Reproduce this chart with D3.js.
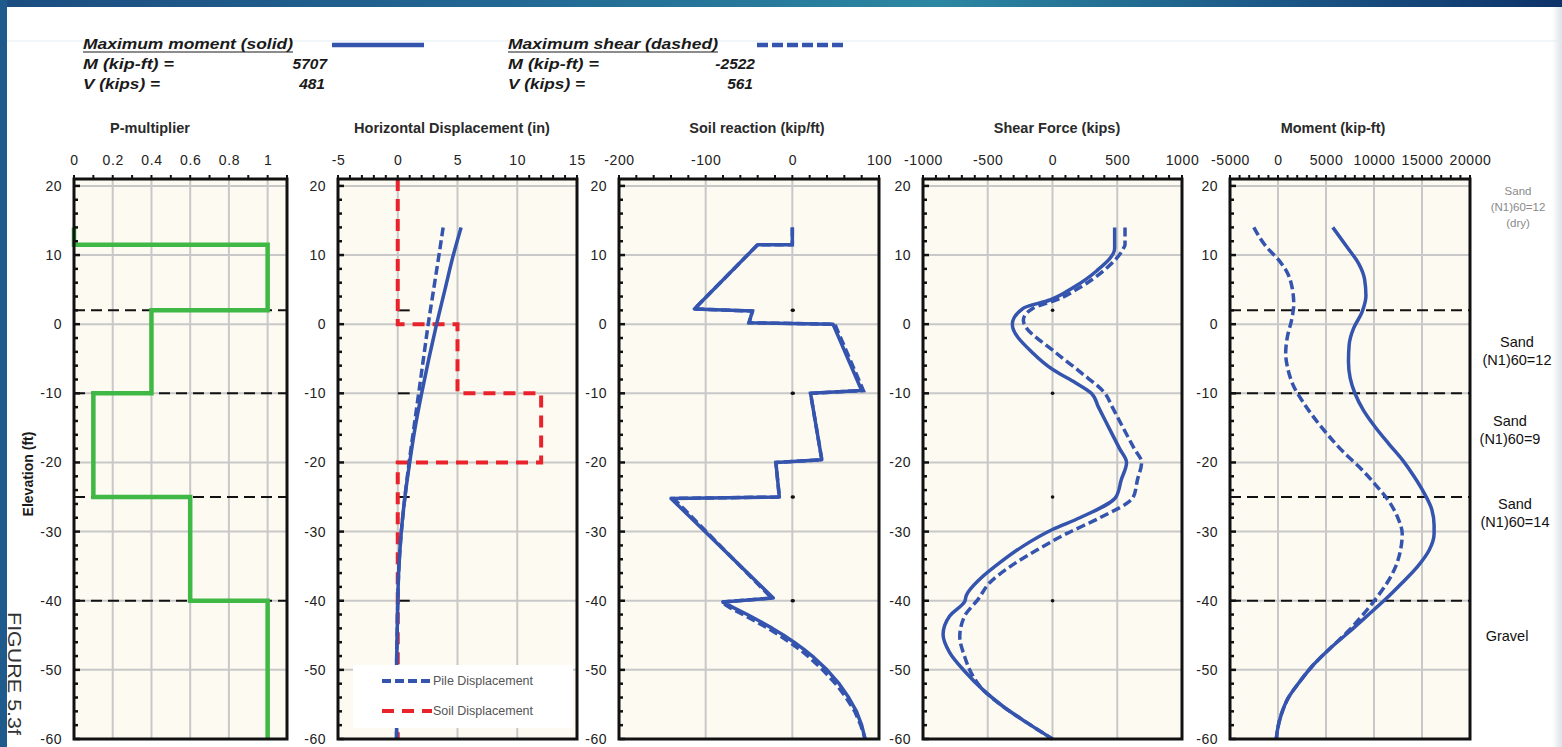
<!DOCTYPE html>
<html><head><meta charset="utf-8">
<script src="https://cdn.jsdelivr.net/npm/d3@7/dist/d3.min.js"></script>
<style>html,body{margin:0;padding:0;background:#fff;overflow:hidden}</style>
</head><body>
<svg id="c" width="1562" height="747"></svg>
<script>
// ---------------- DATA ----------------
const elevTicks = [20, 10, 0, -10, -20, -30, -40, -50, -60];
const layerBoundaries = [2, -10, -25, -40];

const pmTicks = [0, 0.2, 0.4, 0.6, 0.8, 1];
const dispTicks = [-5, 0, 5, 10, 15];
const srTicks = [-200, -100, 0, 100];
const shTicks = [-1000, -500, 0, 500, 1000];
const momTicks = [-5000, 0, 5000, 10000, 15000, 20000];

// P-multiplier profile
const pmElev = [14, 11.5, 11.5, 2, 2, -10, -10, -25, -25, -40, -40, -60];
const pmValue = [0, 0, 1, 1, 0.4, 0.4, 0.1, 0.1, 0.6, 0.6, 1, 1];

// Horizontal displacement (in)
const dispElev = [14, 10, 5, 0, -5, -10, -15, -20, -25, -30, -35, -40, -45, -50, -55, -60];
const pileDispMoment = [5.3, 4.65, 3.95, 3.25, 2.6, 2.0, 1.45, 1.0, 0.6, 0.3, 0.1, 0, -0.05, -0.1, -0.1, -0.1];
const pileDispShear = [3.8, 3.45, 3.0, 2.55, 2.15, 1.75, 1.35, 0.95, 0.6, 0.3, 0.1, 0, -0.05, -0.1, -0.1, -0.1];
const soilDispElev = [21, 0, 0, -10, -10, -20, -20, -60];
const soilDispValue = [0, 0, 5, 5, 12, 12, 0, 0];

// Soil reaction (kip/ft)
const srElev = [14, 11.5, 11.5, 2.2, 1.9, 0.2, 0, -9.6, -10, -19.6, -20, -25, -25.2, -39.6, -40.2, -41, -42, -43, -44, -45, -46, -47, -48, -50, -52, -54, -56, -58, -60];
const srMoment = [0, 0, -40, -113, -46, -50, 47, 80, 21, 34, -19, -15, -140, -22, -80, -68, -52, -37, -23, -10, 2, 13, 23, 40, 54, 65, 74, 80, 84];
const srShear = [0, 0, -40, -113, -46, -50, 49, 82, 21, 34, -19, -15, -137, -24, -82, -72, -57, -42, -28, -15, -3, 8, 18, 35, 50, 62, 72, 79, 84];

// Shear force (kips)
const shElevMoment = [14, 11, 7.7, 5.3, 3.5, 2.3, 0, -4.2, -6.6, -8.5, -10, -12, -15, -18, -20, -22.5, -25, -28, -29.7, -32.1, -34.5, -36.9, -39.2, -40.1, -42.2, -44.9, -47.5, -50.2, -52.9, -55.3, -57.6, -60];
const shMoment = [480, 480, 340, 160, -20, -227, -310, -150, 5, 180, 300, 355, 436, 518, 572, 531, 490, 211, 0, -227, -407, -562, -665, -678, -794, -845, -794, -678, -536, -381, -201, 0];
const shElevShear = [14, 11.5, 10.9, 7.7, 5.3, 3.5, 2.3, 0.6, -4.2, -7, -10, -12, -15, -18, -20, -22.5, -25, -28, -30.3, -32.7, -35.1, -37.4, -39.8, -42.2, -45.2, -48.1, -50.5, -52.9, -55.3, -57.6, -60];
const shShear = [560, 560, 546, 392, 211, 30, -150, -225, 31, 220, 405, 462, 546, 631, 688, 656, 624, 366, 108, -124, -330, -485, -575, -678, -716, -678, -626, -536, -381, -201, 0];

// Moment (kip-ft)
const momElevMoment = [14, 11.2, 8.8, 6.5, 4.1, 1.7, -0.6, -3.0, -5.4, -7.8, -10.1, -12.5, -14.9, -17.3, -19.6, -22.0, -24.4, -26.8, -29.1, -30.3, -32.7, -35.1, -37.4, -39.8, -42.2, -44.6, -46.9, -49.3, -51.7, -54.1, -56.4, -58.8, -60];
const momMoment = [5707, 7170, 8390, 9020, 9160, 8740, 7870, 7410, 7340, 7520, 8040, 8920, 10140, 11540, 12940, 14160, 15210, 16020, 16260, 16260, 15740, 14510, 12940, 11190, 9270, 7340, 5420, 3670, 2270, 1050, 350, -70, -175];
const momElevShear = [14, 11.2, 9.4, 7.7, 5.3, 2.9, 0.5, -1.8, -4.2, -6.6, -9.0, -11.3, -13.7, -16.1, -18.5, -20.8, -23.2, -25.6, -28.0, -30.3, -32.7, -35.1, -37.4, -39.8, -42.2, -44.6, -46.9, -49.3, -51.7, -54.1, -56.4, -58.8, -60];
const momShear = [-2522, -1220, 0, 870, 1470, 1640, 1400, 980, 800, 1050, 1640, 2620, 3850, 5250, 6820, 8570, 10140, 11540, 12480, 12940, 12760, 12240, 11370, 10140, 8740, 7170, 5420, 3670, 2270, 1050, 350, -70, -175];

// Header summary
const caseTitles = ["Maximum moment (solid)", "Maximum shear (dashed)"];
const caseM = [5707, -2522];
const caseV = [481, 561];

// Soil layer labels
const layerLabelsDry = ["Sand", "(N1)60=12", "(dry)"];
const layerLabels = [["Sand", "(N1)60=12"], ["Sand", "(N1)60=9"], ["Sand", "(N1)60=14"], ["Gravel"]];

// ---------------- DRAW ----------------
const W = 1562, H = 747;
const svg = d3.select('#c');
const FONT = "'Liberation Sans', Arial, Helvetica, sans-serif";
const BLUE = '#3454ae', GREEN = '#3fb845', RED = '#e8232b';
const fmt = d => String(d);

const defs = svg.append('defs');
const tg = defs.append('linearGradient').attr('id', 'topbar').attr('x1', 0).attr('x2', 1).attr('y1', 0).attr('y2', 0);
[[0, '#1c4d80'], [0.35, '#236a94'], [0.6, '#2c87a2'], [0.8, '#1d5b88'], [1, '#0e3369']].forEach(([o, c]) => tg.append('stop').attr('offset', o).attr('stop-color', c));
const rg = defs.append('linearGradient').attr('id', 'rightedge').attr('x1', 0).attr('x2', 1).attr('y1', 0).attr('y2', 0);
rg.append('stop').attr('offset', 0).attr('stop-color', '#ffffff');
rg.append('stop').attr('offset', 1).attr('stop-color', '#dde3e8');

svg.append('rect').attr('width', W).attr('height', H).attr('fill', '#fff');
svg.append('rect').attr('x', W - 10).attr('y', 0).attr('width', 10).attr('height', H).attr('fill', 'url(#rightedge)');
svg.append('line').attr('x1', 7).attr('x2', W).attr('y1', 41).attr('y2', 41).attr('stroke', '#e2edf4').attr('stroke-width', 1.2);
svg.append('rect').attr('x', 0).attr('y', 0).attr('width', W).attr('height', 7).attr('fill', 'url(#topbar)');
svg.append('rect').attr('x', 0).attr('y', 0).attr('width', 7).attr('height', H).attr('fill', '#1f5a8c');

// Header
const hdrFont = "'Liberation Sans Narrow', 'Liberation Sans', Arial, sans-serif";
const hdrX = [83, 508];
const hdrNumRight = [327, 755];
const hdrLine = [[332, 424], [757, 846]];
caseTitles.forEach((t, i) => {
  const g = svg.append('g').attr('font-family', hdrFont).attr('font-weight', 'bold').attr('font-style', 'italic').attr('font-size', 15.5).attr('fill', '#1a1a1a');
  g.append('text').attr('x', hdrX[i]).attr('y', 49).attr('textLength', 210).attr('lengthAdjust', 'spacingAndGlyphs').text(t);
  g.append('line').attr('x1', hdrX[i]).attr('x2', hdrX[i] + 210).attr('y1', 52).attr('y2', 52).attr('stroke', '#1a1a1a').attr('stroke-width', 1.2);
  g.append('text').attr('x', hdrX[i]).attr('y', 69).attr('textLength', 91).attr('lengthAdjust', 'spacingAndGlyphs').text('M (kip-ft) =');
  g.append('text').attr('x', hdrX[i]).attr('y', 89).attr('textLength', 77).attr('lengthAdjust', 'spacingAndGlyphs').text('V (kips) =');
  g.append('text').attr('x', hdrNumRight[i]).attr('y', 69).attr('text-anchor', 'end').text(caseM[i]);
  g.append('text').attr('x', hdrNumRight[i] - 2).attr('y', 89).attr('text-anchor', 'end').text(caseV[i]);
  svg.append('line').attr('x1', hdrLine[i][0]).attr('x2', hdrLine[i][1]).attr('y1', 45).attr('y2', 45)
    .attr('stroke', BLUE).attr('stroke-width', 4.5).attr('stroke-dasharray', i ? '11,4' : null);
});

const yTop = 179, yBot = 739;
const y = d3.scaleLinear().domain([-60, 21]).range([yBot, yTop]);

const panels = [
  { title: 'P-multiplier', domain: [0, 1.1], range: [74, 287], ticks: pmTicks, minor: 0.1, titleX: 150, layerSpan: [0, 1.1] },
  { title: 'Horizontal Displacement (in)', domain: [-5, 15], range: [338, 577], ticks: dispTicks, minor: 1, titleX: 452, layerSpan: [0, 1] },
  { title: 'Soil reaction (kip/ft)', domain: [-200, 100], range: [619, 879], ticks: srTicks, minor: 20, titleX: 757, layerSpan: [0, 1] },
  { title: 'Shear Force (kips)', domain: [-1000, 1000], range: [923, 1182], ticks: shTicks, minor: 100, titleX: 1057, layerSpan: [0, 1] },
  { title: 'Moment (kip-ft)', domain: [-5000, 20000], range: [1230, 1470], ticks: momTicks, minor: 1000, titleX: 1333, layerSpan: [-5000, 20000] }
];

function series(xs, ys) { return xs.map((v, i) => [v, ys[i]]); }

panels.forEach((p, pi) => {
  const x = d3.scaleLinear().domain(p.domain).range(p.range);
  p.x = x;
  const g = svg.append('g');
  g.append('rect').attr('x', p.range[0]).attr('y', yTop).attr('width', p.range[1] - p.range[0]).attr('height', yBot - yTop).attr('fill', '#fcfaf1');
  g.selectAll('.vg').data(p.ticks.filter(t => t > p.domain[0] && t < p.domain[1])).join('line')
    .attr('x1', d => x(d)).attr('x2', d => x(d)).attr('y1', yTop).attr('y2', yBot).attr('stroke', '#c8c8c8').attr('stroke-width', 2);
  g.selectAll('.hg').data(elevTicks.filter(t => t > -60)).join('line')
    .attr('x1', p.range[0]).attr('x2', p.range[1]).attr('y1', d => y(d)).attr('y2', d => y(d)).attr('stroke', '#c8c8c8').attr('stroke-width', 2);
  g.selectAll('.lb').data(layerBoundaries).join('line')
    .attr('x1', x(p.layerSpan[0])).attr('x2', x(p.layerSpan[1])).attr('y1', d => y(d)).attr('y2', d => y(d))
    .attr('stroke', '#111').attr('stroke-width', (pi === 2 || pi === 3) ? 3.5 : 2)
    .attr('stroke-linecap', (pi === 2 || pi === 3) ? 'round' : 'butt')
    .attr('stroke-dasharray', (pi === 0 || pi === 4) ? '11,6' : null);
  const ax = g.append('g').attr('transform', `translate(0,${yTop})`)
    .call(d3.axisTop(x).tickValues(p.ticks).tickSize(0).tickPadding(14).tickFormat(fmt));
  ax.select('.domain').remove();
  ax.attr('font-family', FONT).attr('font-size', 14).selectAll('text').attr('fill', '#222').attr('letter-spacing', 0.6);
  const ay = g.append('g').attr('transform', `translate(${p.range[0]},0)`)
    .call(d3.axisLeft(y).tickValues(elevTicks).tickSize(0).tickPadding(12).tickFormat(fmt));
  ay.select('.domain').remove();
  ay.attr('font-family', FONT).attr('font-size', 14).selectAll('text').attr('fill', '#222').attr('letter-spacing', 0.5);
  g.append('text').attr('x', p.titleX).attr('y', 133).attr('text-anchor', 'middle')
    .attr('font-family', FONT).attr('font-weight', 'bold').attr('font-size', 14.5).attr('fill', '#2a2a2a').text(p.title);
  p.g = g;
});

const line = (x) => d3.line().x(d => x(d[0])).y(d => y(d[1]));

// P-multiplier
panels[0].g.append('path').datum(series(pmValue, pmElev)).attr('d', line(panels[0].x))
  .attr('fill', 'none').attr('stroke', GREEN).attr('stroke-width', 4.5).attr('stroke-linejoin', 'miter');

// Displacement
const px = panels[1].x;
panels[1].g.append('path').datum(series(soilDispValue, soilDispElev)).attr('d', line(px))
  .attr('fill', 'none').attr('stroke', RED).attr('stroke-width', 4).attr('stroke-dasharray', '12,8');
panels[1].g.append('path').datum(series(pileDispShear, dispElev)).attr('d', line(px).curve(d3.curveMonotoneY))
  .attr('fill', 'none').attr('stroke', BLUE).attr('stroke-width', 3.5).attr('stroke-dasharray', '9,4');
panels[1].g.append('path').datum(series(pileDispMoment, dispElev)).attr('d', line(px).curve(d3.curveMonotoneY))
  .attr('fill', 'none').attr('stroke', BLUE).attr('stroke-width', 3.5);
const lg = panels[1].g.append('g');
lg.append('rect').attr('x', 353).attr('y', 665).attr('width', 220).attr('height', 63).attr('fill', '#fff');
const legendItems = [['Pile Displacement', BLUE, '9,4', 681], ['Soil Displacement', RED, '12,8', 711]];
legendItems.forEach(([t, c, da, yy]) => {
  lg.append('line').attr('x1', 382).attr('x2', 432).attr('y1', yy).attr('y2', yy).attr('stroke', c).attr('stroke-width', 4).attr('stroke-dasharray', da);
  lg.append('text').attr('x', 433).attr('y', yy).attr('dy', '0.35em').attr('font-family', FONT).attr('font-size', 12.5).attr('fill', '#555').text(t);
});

// Soil reaction
const sx = panels[2].x;
panels[2].g.append('path').datum(series(srShear, srElev)).attr('d', line(sx))
  .attr('fill', 'none').attr('stroke', BLUE).attr('stroke-width', 3.5).attr('stroke-dasharray', '9,4');
panels[2].g.append('path').datum(series(srMoment, srElev)).attr('d', line(sx))
  .attr('fill', 'none').attr('stroke', BLUE).attr('stroke-width', 3.5).attr('stroke-linejoin', 'round');

// Shear
const hx = panels[3].x;
panels[3].g.append('path').datum(series(shShear, shElevShear)).attr('d', line(hx).curve(d3.curveMonotoneY))
  .attr('fill', 'none').attr('stroke', BLUE).attr('stroke-width', 3.5).attr('stroke-dasharray', '9,4');
panels[3].g.append('path').datum(series(shMoment, shElevMoment)).attr('d', line(hx).curve(d3.curveMonotoneY))
  .attr('fill', 'none').attr('stroke', BLUE).attr('stroke-width', 3.5).attr('stroke-linejoin', 'round');

// Moment
const mx = panels[4].x;
panels[4].g.append('path').datum(series(momShear, momElevShear)).attr('d', line(mx).curve(d3.curveMonotoneY))
  .attr('fill', 'none').attr('stroke', BLUE).attr('stroke-width', 3.5).attr('stroke-dasharray', '9,4');
panels[4].g.append('path').datum(series(momMoment, momElevMoment)).attr('d', line(mx).curve(d3.curveMonotoneY))
  .attr('fill', 'none').attr('stroke', BLUE).attr('stroke-width', 3.5);

// Frames and minor ticks
panels.forEach(p => {
  const g = p.g, x = p.x;
  const n = Math.round((p.domain[1] - p.domain[0]) / p.minor);
  const mt = d3.range(n + 1).map(i => p.domain[0] + i * p.minor);
  g.selectAll('.tt').data(mt).join('line')
    .attr('x1', d => x(d)).attr('x2', d => x(d)).attr('y1', yTop).attr('y2', yTop - 4)
    .attr('stroke', '#111').attr('stroke-width', 2);
  const ym = d3.range(41).map(i => -60 + i * 2);
  g.selectAll('.yt').data(ym).join('line')
    .attr('x1', p.range[0]).attr('x2', d => p.range[0] + (d % 10 === 0 ? 6 : 4)).attr('y1', d => y(d)).attr('y2', d => y(d))
    .attr('stroke', '#111').attr('stroke-width', 2.5);
  g.append('rect').attr('x', p.range[0]).attr('y', yTop).attr('width', p.range[1] - p.range[0]).attr('height', yBot - yTop)
    .attr('fill', 'none').attr('stroke', '#111').attr('stroke-width', 3);
});

svg.append('text').attr('transform', 'translate(33,474) rotate(-90)').attr('text-anchor', 'middle')
  .attr('font-family', FONT).attr('font-weight', 'bold').attr('font-size', 14).attr('fill', '#1a1a1a').text('Elevation (ft)');

svg.append('text').attr('transform', 'translate(8,612) rotate(90)')
  .attr('font-family', FONT).attr('font-size', 19).attr('fill', '#333').attr('textLength', 123).attr('lengthAdjust', 'spacingAndGlyphs').text('FIGURE 5.3f');

const dryY = [191, 207, 223];
layerLabelsDry.forEach((t, i) => {
  svg.append('text').attr('x', 1518).attr('y', dryY[i]).attr('dy', '0.35em').attr('text-anchor', 'middle')
    .attr('font-family', FONT).attr('font-size', 11.5).attr('fill', '#8a8a8a').text(t);
});
const lblPos = [[1517, 342], [1510, 421], [1515, 504], [1507, 636]];
layerLabels.forEach((lines, i) => {
  lines.forEach((t, j) => {
    svg.append('text').attr('x', lblPos[i][0]).attr('y', lblPos[i][1] + j * 18).attr('dy', '0.35em').attr('text-anchor', 'middle')
      .attr('font-family', FONT).attr('font-size', 14.5).attr('fill', '#111').text(t);
  });
});
</script>
</body></html>
